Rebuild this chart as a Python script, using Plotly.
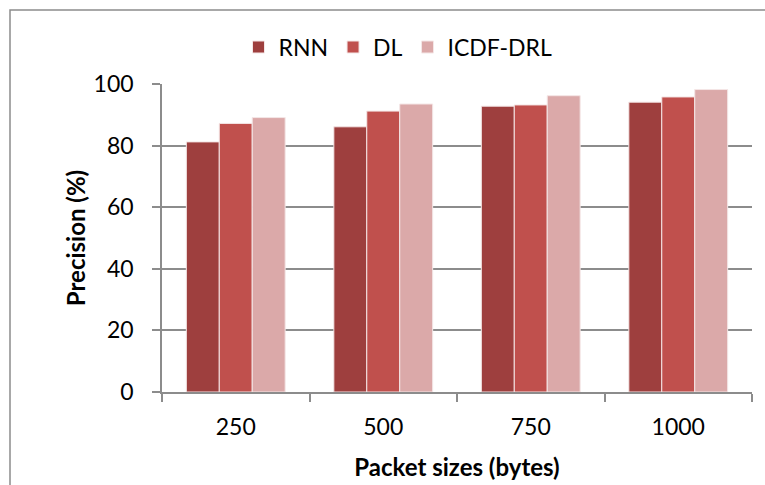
import plotly.graph_objects as go

# Precision by packet size for the three detection models
packet_sizes = ["250", "500", "750", "1000"]
rnn = [81.2, 86.1, 92.8, 94.1]
dl = [87.2, 91.2, 93.2, 95.8]
icdf_drl = [89.1, 93.5, 96.2, 98.2]

series = [
    ("RNN", rnn, "#9E3F3E"),
    ("DL", dl, "#C0504D"),
    ("ICDF-DRL", icdf_drl, "#DBA9A9"),
]

FONT = "Lato, Open Sans, sans-serif"
GRID = "#8C8C8C"

fig = go.Figure()
for name, vals, color in series:
    fig.add_trace(go.Bar(
        x=packet_sizes, y=vals, name=name,
        marker=dict(color=color, line=dict(color="#F4E6E6", width=1)),
    ))

W, H = 765, 485
L, R, T, B = 162, 13, 84, 92.5
pw, ph = W - L - R, H - T - B

fig.update_layout(
    width=W, height=H,
    margin=dict(l=L, r=R, t=T, b=B, autoexpand=False),
    paper_bgcolor="white", plot_bgcolor="white",
    barmode="group", bargap=0.33, bargroupgap=0,
    font=dict(family=FONT, size=23, color="#000000"),
    legend=dict(
        orientation="h", x=(398 - L) / pw, xanchor="center",
        y=1 + (T - 47) / ph, yanchor="middle",
        font=dict(size=23), itemwidth=30, traceorder="normal",
        bgcolor="rgba(0,0,0,0)",
    ),
    showlegend=True,
    xaxis=dict(
        type="category", tickson="boundaries", automargin=False,
        ticks="outside", ticklen=8, tickcolor=GRID, tickwidth=1.5,
        showline=True, linecolor=GRID, linewidth=1.5,
        showgrid=False, ticklabelstandoff=14,
        tickfont=dict(size=23),
        title=dict(text="<b>Packet sizes (bytes)</b>", font=dict(size=24), standoff=20),
    ),
    yaxis=dict(
        range=[0, 100], dtick=20, automargin=False,
        ticks="outside", ticklen=8, tickcolor=GRID, tickwidth=1.5,
        showline=True, linecolor=GRID, linewidth=1.5,
        showgrid=True, gridcolor=GRID, gridwidth=1.5,
        zeroline=False, ticklabelstandoff=14,
        tickfont=dict(size=23),
        title=dict(text="<b>Precision (%)</b>", font=dict(size=24), standoff=1),
    ),
)

# Outer frame of the chart area
fig.add_shape(
    type="rect", xref="paper", yref="paper",
    x0=(10 - L) / pw, x1=(W + 10 - L) / pw,
    y0=1 - (H + 10 - T) / ph, y1=1 + (T - 10) / ph,
    line=dict(color="#8C8C8C", width=1.5), fillcolor="rgba(0,0,0,0)",
    layer="below",
)

fig.write_html("out.html")
